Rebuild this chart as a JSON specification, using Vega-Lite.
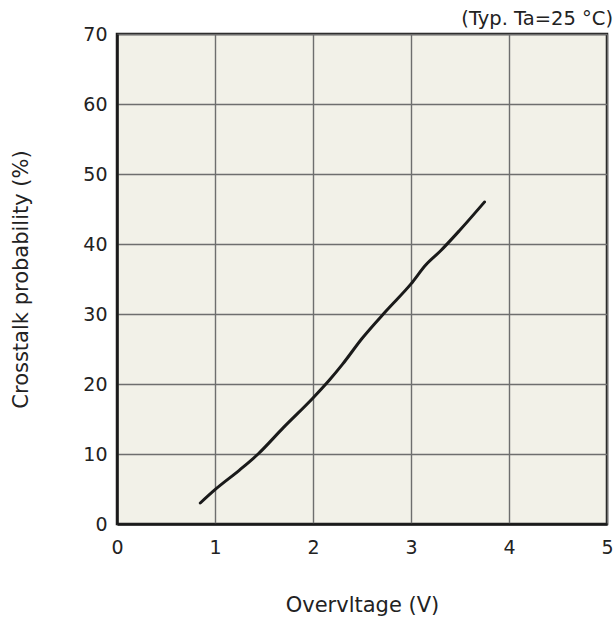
{
  "$schema": "https://vega.github.io/schema/vega-lite/v6.json",
  "width": 490,
  "height": 490,
  "autosize": {"type": "none"},
  "padding": {"left": 117, "top": 34, "right": 8, "bottom": 97},
  "background": "white",
  "config": {
    "font": "DejaVu Sans",
    "view": {"fill": "#f2f1e8", "stroke": "#1a1a1a", "strokeWidth": 2.5}
  },
  "title": {
    "text": "(Typ. Ta=25 °C)",
    "anchor": "end",
    "fontSize": 19.5,
    "fontWeight": "normal",
    "color": "#222",
    "offset": -4,
    "font": "DejaVu Sans"
  },
  "data": {
    "values": [
      {"v": 0.85, "p": 3.0},
      {"v": 1.0, "p": 4.9},
      {"v": 1.25, "p": 7.7},
      {"v": 1.44, "p": 10.0},
      {"v": 1.7, "p": 13.8},
      {"v": 2.0, "p": 18.0},
      {"v": 2.17, "p": 20.6},
      {"v": 2.3, "p": 22.8},
      {"v": 2.5, "p": 26.5},
      {"v": 2.75, "p": 30.5},
      {"v": 3.0, "p": 34.3},
      {"v": 3.15, "p": 37.0},
      {"v": 3.3, "p": 39.0},
      {"v": 3.5, "p": 42.0},
      {"v": 3.75, "p": 46.0}
    ]
  },
  "mark": {"type": "line", "color": "#1a1a1a", "strokeWidth": 3, "interpolate": "monotone", "strokeCap": "round"},
  "encoding": {
    "x": {
      "field": "v",
      "type": "quantitative",
      "scale": {"domain": [0, 5], "nice": false},
      "axis": {
        "values": [0, 1, 2, 3, 4, 5],
        "title": "Overvltage (V)",
        "titleFontSize": 21,
        "titleFontWeight": "normal",
        "titleColor": "#222",
        "titlePadding": 37,
        "labelFontSize": 19,
        "labelColor": "#222",
        "labelPadding": 14,
        "labelFlush": false,
        "ticks": false,
        "domainColor": "#1a1a1a",
        "domainWidth": 2.5,
        "gridColor": "#6e6e6e",
        "gridWidth": 1.4,
        "gridOpacity": 1
      }
    },
    "y": {
      "field": "p",
      "type": "quantitative",
      "scale": {"domain": [0, 70], "nice": false},
      "axis": {
        "values": [0, 10, 20, 30, 40, 50, 60, 70],
        "title": "Crosstalk probability (%)",
        "titleFontSize": 21,
        "titleFontWeight": "normal",
        "titleColor": "#222",
        "titlePadding": 51,
        "labelFontSize": 19,
        "labelColor": "#222",
        "labelPadding": 10,
        "labelFlush": false,
        "ticks": false,
        "domainColor": "#1a1a1a",
        "domainWidth": 2.5,
        "gridColor": "#6e6e6e",
        "gridWidth": 1.4,
        "gridOpacity": 1
      }
    }
  }
}
